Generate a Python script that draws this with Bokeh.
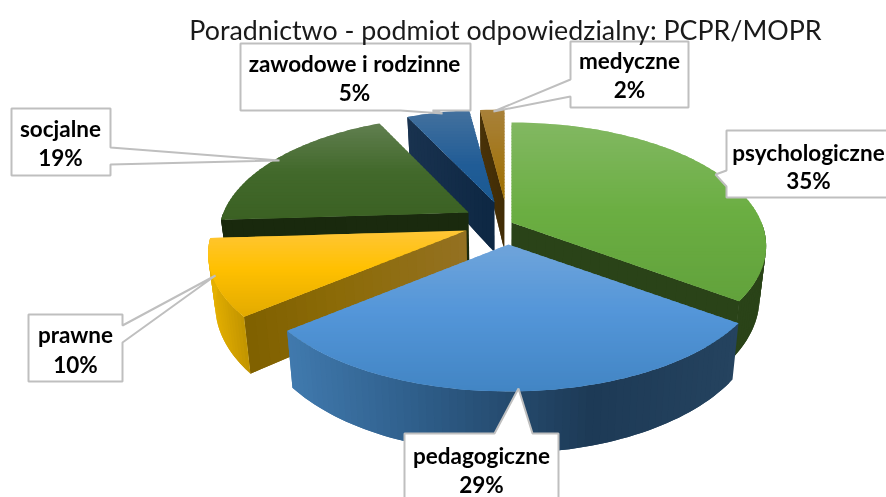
import math
from bokeh.plotting import figure
from bokeh.models import Range1d
from bokeh.core.properties import value
from bokeh.embed import file_html
from bokeh.resources import INLINE

TITLE = "Poradnictwo - podmiot odpowiedzialny: PCPR/MOPR"
categories = ["psychologiczne", "pedagogiczne", "prawne", "socjalne", "zawodowe i rodzinne", "medyczne"]
values = [35, 29, 10, 19, 5, 2]

W, H = 886, 497
RX, RY, PERSP, DEPTH = 250.0, 119.0, 0.19, 50.0

# layout of each exploded slice, in page pixels: apex x, apex y, radius scale x, radius scale y
APEX = [(511, 222, 1.00, 1.00), (508, 244, 1.01, 1.00), (466, 230, 1.015, 1.00),
        (468, 212, 0.98, 0.97), (494, 202, 0.96, 0.93), (504, 200, 0.93, 0.91)]
TOP_STOPS = [
    [(0, "#82b862"), (0.5, "#6bae42"), (1, "#62a23c")],
    [(0, "#6fa4da"), (0.45, "#5496d9"), (1, "#4285c4")],
    [(0, "#ffc636"), (0.45, "#ffc000"), (1, "#e2aa00")],
    [(0, "#617f50"), (0.5, "#42692b"), (1, "#3b6123")],
    [(0, "#44719e"), (0.6, "#205c96"), (1, "#1a5a93")],
    [(0, "#a8813a"), (1, "#9f6f00")],
]
WALL_STOPS = [  # radial walls: colour across the page width
    [(0, "#2a4318"), (1, "#2a4318")],
    [(290, "#4079ad"), (740, "#25435f")],
    [(243, "#7f6000"), (340, "#8c6b08"), (468, "#947122")],
    [(220, "#19290d"), (470, "#1a2a0e")],
    [(400, "#1a3350"), (500, "#0c2642")],
    [(470, "#4d3509"), (510, "#3f2b06")],
]
RIM_STOPS = [  # outer walls: colour across the page width
    [(0, "#2a4318"), (1, "#2a4318")],
    [(290, "#4079ad"), (430, "#2d5b86"), (590, "#1d3a56"), (740, "#25435f")],
    [(208, "#e5b000"), (250, "#bb8f00")],
    [(220, "#19290d"), (470, "#1a2a0e")],
    [(400, "#1a3350"), (500, "#0c2642")],
    [(470, "#4d3509"), (510, "#3f2b06")],
]
DRAW_ORDER = [5, 4, 3, 0, 2, 1]
CALLOUTS = [
    [(240, 43), (470, 43), (470, 110), (432, 110), (442, 113), (400, 110), (240, 110)],
    [(570, 41), (688, 41), (688, 107), (570, 107), (570, 96), (493, 111), (570, 79)],
    [(11, 108), (110, 108), (110, 147), (279, 160), (110, 164), (110, 175), (11, 175)],
    [(726, 130), (900, 130), (900, 197), (726, 197), (726, 186), (715, 174), (726, 170)],
    [(28, 314), (122, 314), (122, 325), (215, 275), (122, 342), (122, 381), (28, 381)],
    [(404, 433), (494, 433), (518, 388), (532, 433), (558, 433), (558, 515), (404, 515)],
]
LABEL_POS = {  # centre x, first line y, second line y
    "psychologiczne": (808, 152, 180), "pedagogiczne": (481, 455, 484), "prawne": (75, 334, 364),
    "socjalne": (60, 128, 157), "zawodowe i rodzinne": (354, 63, 92), "medyczne": (629, 60, 89),
}

def h2r(c):
    return tuple(int(c[i:i + 2], 16) for i in (1, 3, 5))

def grad(stops, t):
    if t <= stops[0][0]:
        return stops[0][1]
    for (a, ca), (b, cb) in zip(stops, stops[1:]):
        if t <= b:
            f = (t - a) / (b - a)
            ra, rb = h2r(ca), h2r(cb)
            return "#%02x%02x%02x" % tuple(round(u + (v - u) * f) for u, v in zip(ra, rb))
    return stops[-1][1]

def pt(i, deg, r=1.0):
    ax, ay, sx, sy = APEX[i]
    a = math.radians(deg)
    Y = -math.cos(a) * r
    d = 1 - PERSP * Y
    return (ax + sx * RX * math.sin(a) * r / d, ay + sy * RY * Y / d), Y

def low(p, Y):
    d = 1 - PERSP * Y
    return (p[0] + (500 - p[0]) * 0.025, p[1] + DEPTH / d)

def clip_band(poly, y0, y1):
    def clip(poly, keep, yc):
        out = []
        for k in range(len(poly)):
            a, b = poly[k], poly[(k + 1) % len(poly)]
            ka, kb = keep(a[1]), keep(b[1])
            if ka:
                out.append(a)
            if ka != kb:
                t = (yc - a[1]) / (b[1] - a[1])
                out.append((a[0] + t * (b[0] - a[0]), yc))
        return out
    res = clip(poly, lambda y: y >= y0, y0)
    return clip(res, lambda y: y <= y1, y1) if res else res

xs, ys, cols = [], [], []
def add(poly, col):
    xs.append([q[0] for q in poly])
    ys.append([q[1] for q in poly])
    cols.append(col)

def wall_strip(samples, stops):
    """Quads along samples; each one is overlapped by the next, so that no seam shows."""
    for k in range(len(samples) - 1):
        end = min(k + 2, len(samples) - 1)
        chain = samples[k:end + 1]
        top = [s[0] for s in chain]
        bot = [low(s[0], s[1]) for s in chain]
        mid = (samples[k][0][0] + samples[k + 1][0][0]) / 2
        add(top + bot[::-1], grad(stops, mid))

total = sum(values)
starts, c = [], 0.0
for v in values:
    starts.append(c * 360 / total)
    c += v

for i in DRAW_ORDER:
    t1 = starts[i]
    t2 = t1 + values[i] * 360 / total
    # radial wall that faces the viewer
    for ang, on in ((t1, math.sin(math.radians(t1)) < -1e-6), (t2, math.sin(math.radians(t2)) > 1e-6)):
        if on:
            n = 24
            wall_strip([pt(i, ang, k / n) for k in range(n + 1)], WALL_STOPS[i])
    # outer wall, near half of the rim only
    a, b = max(t1, 90), min(t2, 270)
    if a < b:
        n = max(2, int((b - a) / 1.5))
        wall_strip([pt(i, a + (b - a) * k / n) for k in range(n + 1)], RIM_STOPS[i])
    # top face, shaded in overlapping horizontal bands
    n = max(4, int((t2 - t1) / 1.5))
    poly = [pt(i, 0, 0)[0]] + [pt(i, t1 + (t2 - t1) * k / n)[0] for k in range(n + 1)]
    ymin, ymax = min(q[1] for q in poly), max(q[1] for q in poly)
    y = ymin
    while y < ymax:
        band = clip_band(poly, y, min(y + 5, ymax))
        if len(band) >= 3:
            add(band, grad(TOP_STOPS[i], (y + 1.5 - ymin) / (ymax - ymin)))
        y += 3

p = figure(width=W, height=H, x_range=Range1d(0, W), y_range=Range1d(H, 0),
           output_backend="svg", toolbar_location=None, min_border=0,
           outline_line_color=None, background_fill_color="white", border_fill_color="white")
p.styles = {"position": "fixed", "left": "0px", "top": "0px"}
p.xaxis.visible = False
p.yaxis.visible = False
p.grid.visible = False

p.patches(xs, ys, fill_color=cols, line_color=None)
p.patches([[q[0] for q in c] for c in CALLOUTS], [[q[1] for q in c] for c in CALLOUTS],
          fill_color="white", line_color="#bfbfbf", line_width=2)

p.text([505], [29], text=[TITLE], text_font=value("Lato"), text_font_size="26.8px",
       text_color="#1a1a1a", text_align="center", text_baseline="middle")

lx, ly, lt = [], [], []
for name, v in zip(categories, values):
    cx, y1, y2 = LABEL_POS[name]
    lx += [cx, cx]
    ly += [y1, y2]
    lt += [name, f"{v}%"]
p.text(lx, ly, text=lt, text_font=value("Lato"), text_font_style="bold", text_font_size="22.5px",
       text_color="#000000", text_align="center", text_baseline="middle")

open("out.html", "w").write(file_html(p, INLINE))
